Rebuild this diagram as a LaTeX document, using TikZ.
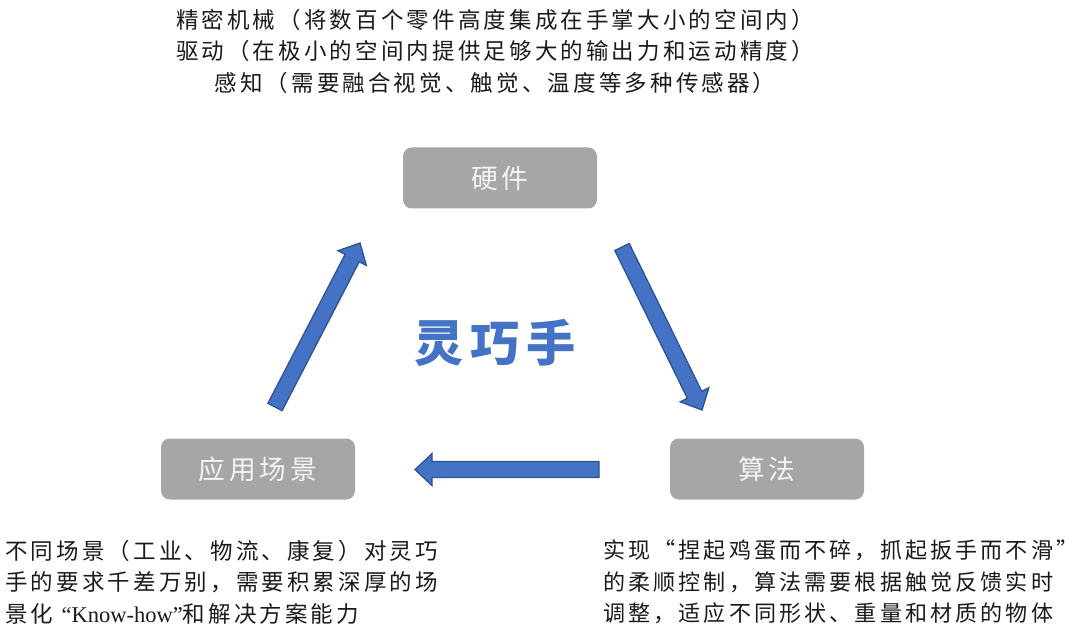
\documentclass[tikz,border=0pt]{standalone}
\usepackage{fontspec}
\usetikzlibrary{calc}

\newfontfamily\cjk{Noto Sans CJK SC}[LetterSpace=14]
\newfontfamily\latinserif{Liberation Serif}

\definecolor{boxGrey}{HTML}{A6A6A6}
\definecolor{boxText}{HTML}{F4F4F4}
\definecolor{arrowBlue}{HTML}{4472C4}
\definecolor{arrowEdge}{HTML}{2F528F}
\definecolor{noteBlack}{HTML}{1A1A1A}

\tikzset{
  greyRect/.style={rectangle, rounded corners=2.2mm, fill=boxGrey, text=boxText, minimum width=48.5mm, minimum height=15.25mm, font=\cjk\fontsize{19}{22}\selectfont},
  noteText/.style={inner sep=0pt, text=noteBlack, font=\cjk\fontsize{16}{22.4}\selectfont},
  blockArrow/.style={fill=arrowBlue, draw=arrowEdge, line width=0.9pt, line join=miter},
}

% block arrow from #1 (tail) to #2 (tip)
\newcommand{\drawBlockArrow}[2]{%
  \coordinate (headBase) at ($(#2)!4.25mm!(#1)$);
  \draw[blockArrow] ($(#1)!2mm!90:(#2)$) -- ($(headBase)!2mm!-90:(#1)$) -- ($(headBase)!4mm!-90:(#1)$) -- (#2) -- ($(headBase)!4mm!90:(#1)$) -- ($(headBase)!2mm!90:(#1)$) -- ($(#1)!2mm!-90:(#2)$) -- cycle;}

\begin{document}
\begin{tikzpicture}

\useasboundingbox (0mm,0mm) rectangle (270mm,-158.25mm);

\node (hardwareNote) [noteText, align=center] at (123.75mm,-12.75mm) {精密机械（将数百个零件高度集成在手掌大小的空间内）\\驱动（在极小的空间内提供足够大的输出力和运动精度）\\感知（需要融合视觉、触觉、温度等多种传感器）};

\node (hardwareRect) [greyRect] at (125mm,-44.5mm) {硬件};
\node (algoRect) [greyRect] at (191.75mm,-117.25mm) {算法};
\node (sceneRect) [greyRect] at (64.5mm,-117.25mm) {应用场景};

\node (handTitle) [text=arrowBlue, font=\cjk\fontsize{35}{40}\selectfont\bfseries] at (123.75mm,-85.75mm) {灵巧手};

\node (sceneNote) [noteText, align=left, anchor=west] at (1.25mm,-145.5mm) {不同场景（工业、物流、康复）对灵巧\\手的要求千差万别，需要积累深厚的场\\景化 {\latinserif “Know-how”}和解决方案能力};
\node (algoNote) [noteText, align=left, anchor=west, font=\cjk\fontsize{15.7}{22.4}\selectfont] at (150.75mm,-145.5mm) {实现“捏起鸡蛋而不碎，抓起扳手而不滑”\\的柔顺控制，算法需要根据触觉反馈实时\\调整，适应不同形状、重量和材质的物体};

\coordinate (hwTail) at (155.5mm,-61.75mm);
\coordinate (hwTip) at (175.5mm,-102.5mm);
\coordinate (algoTail) at (149.75mm,-117.4mm);
\coordinate (algoTip) at (103.75mm,-117.4mm);
\coordinate (sceneTail) at (68.75mm,-101.75mm);
\coordinate (sceneTip) at (90mm,-60.75mm);

\drawBlockArrow{hwTail}{hwTip}
\drawBlockArrow{algoTail}{algoTip}
\drawBlockArrow{sceneTail}{sceneTip}

\end{tikzpicture}
\end{document}
